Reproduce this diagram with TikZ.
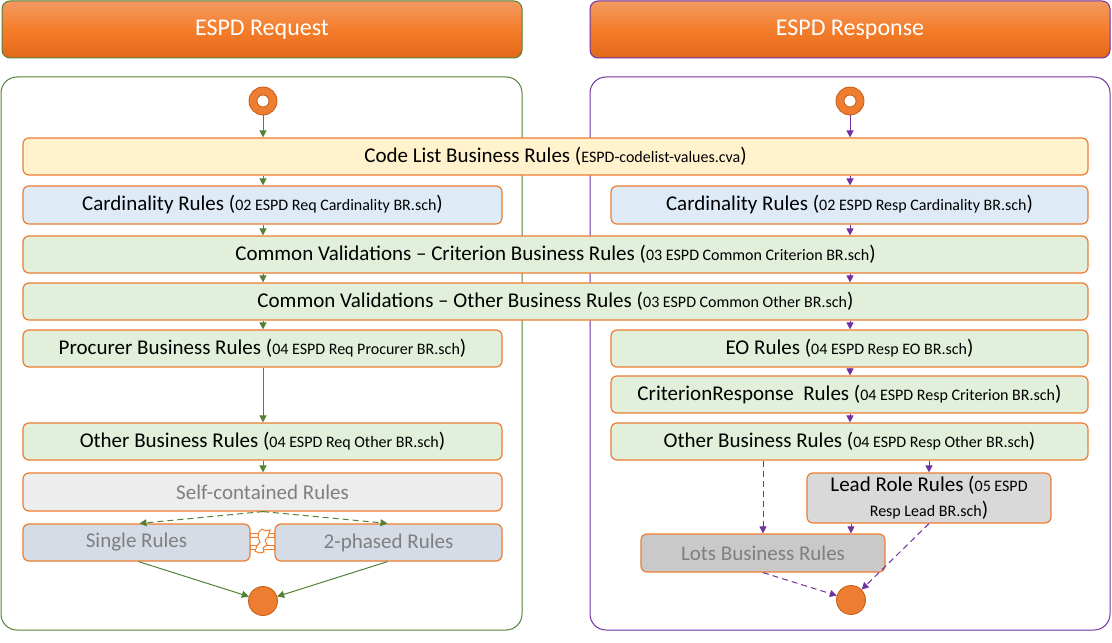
\documentclass[tikz,border=0pt]{standalone}
\usepackage{fontspec}
\setmainfont{Carlito}
\usetikzlibrary{arrows.meta,shapes.geometric}
\definecolor{orB}{HTML}{ED7D31}
\definecolor{gArr}{HTML}{548235}
\definecolor{pArr}{HTML}{7030A0}
\definecolor{fYel}{HTML}{FFF2CC}
\definecolor{fBlu}{HTML}{DEEBF7}
\definecolor{fGrn}{HTML}{E2EFDA}
\definecolor{fSelf}{HTML}{EDEDED}
\definecolor{fSgl}{HTML}{D6DCE5}
\definecolor{fLead}{HTML}{D9D9D9}
\definecolor{fLots}{HTML}{C9C9C9}
\definecolor{txtG}{HTML}{7F7F7F}
\definecolor{hTop}{HTML}{F39A62}
\definecolor{hMid}{HTML}{F47D2A}
\definecolor{hBot}{HTML}{E3681A}
\definecolor{cDark}{HTML}{C55A11}
\newcommand{\mainsz}{\fontsize{10.5}{12}\selectfont}
\newcommand{\smtxt}[1]{{\fontsize{8}{10}\selectfont #1}}
\tikzset{
  rulebox/.style={draw=orB, line width=0.6pt, rounded corners=3pt, font=\mainsz, inner sep=0pt, align=center},
  hdr/.style={draw=#1, line width=0.5pt, rounded corners=4pt, top color=hTop, bottom color=hBot, middle color=hMid, minimum width=260pt, minimum height=28.5pt, text=white, font=\fontsize{12}{14}\selectfont},
  cont/.style={draw=#1, line width=0.5pt, rounded corners=8pt},
  garr/.style={draw=gArr, line width=0.5pt, -{Triangle[length=3.5pt,width=3.5pt]}},
  parr/.style={draw=pArr, line width=0.5pt, -{Triangle[length=3.5pt,width=3.5pt]}},
  startc/.style={circle, fill=orB, draw=cDark, line width=0.4pt, minimum size=14pt, inner sep=0pt},
  startin/.style={circle, fill=white, draw=cDark, line width=0.4pt, minimum size=6pt, inner sep=0pt},
  endc/.style={circle, fill=orB, draw=cDark, line width=0.4pt, minimum size=14.5pt, inner sep=0pt},
}
\begin{document}
\begin{tikzpicture}[x=0.5pt,y=-0.5pt]
\useasboundingbox (0,0) rectangle (1112,642);
% headers
\node[hdr=gArr] (hreq) at (262,29.5) {\raisebox{-1.5pt}{ESPD Request}};
\node[hdr=pArr] (hresp) at (850,29.5) {\raisebox{-1.5pt}{ESPD Response}};
% containers
\draw[cont=gArr] (1,77) rectangle (522,630);
\draw[cont=pArr] (590,77) rectangle (1110,630);
% start / end
\node[startc] (lstart) at (263,101) {};
\node[startin] (lstartin) at (263,101) {};
\node[startc] (rstart) at (850,101) {};
\node[startin] (rstartin) at (850,101) {};
\node[endc] (lend) at (263,601) {};
\node[endc] (rend) at (851,600) {};
% boxes
\node[rulebox, fill=fYel, minimum width=532.5pt, minimum height=18.5pt] (code) at (555.5,156.5) {Code List Business\ Rules (\smtxt{ESPD-codelist-values.cva})};
\node[rulebox, fill=fBlu, minimum width=239.5pt, minimum height=19pt] (reqcard) at (262.5,205) {Cardinality Rules (\smtxt{02 ESPD Req Cardinality BR.sch})};
\node[rulebox, fill=fBlu, minimum width=238.5pt, minimum height=19pt] (respcard) at (849.5,205) {Cardinality Rules (\smtxt{02 ESPD Resp Cardinality BR.sch})};
\node[rulebox, fill=fGrn, minimum width=532.5pt, minimum height=18.5pt] (crit) at (555.5,254.5) {Common Validations -- Criterion\ Business\ Rules (\smtxt{03 ESPD Common\ Criterion\ BR.sch})};
\node[rulebox, fill=fGrn, minimum width=532.5pt, minimum height=18.5pt] (other) at (555.5,301.5) {Common Validations -- Other\ Business Rules (\smtxt{03 ESPD Common\ Other BR.sch})};
\node[rulebox, fill=fGrn, minimum width=239.5pt, minimum height=18.5pt] (proc) at (262.5,348.5) {Procurer\ Business Rules (\smtxt{04 ESPD Req Procurer\ BR.sch})};
\node[rulebox, fill=fGrn, minimum width=239.5pt, minimum height=18.5pt] (reqother) at (262.5,441.5) {Other Business\ Rules (\smtxt{04\ ESPD Req Other\ BR.sch})};
\node[rulebox, fill=fGrn, minimum width=238.5pt, minimum height=18.5pt] (eo) at (849.5,348.5) {EO Rules (\smtxt{04 ESPD Resp EO BR.sch})};
\node[rulebox, fill=fGrn, minimum width=238.5pt, minimum height=18.5pt] (critresp) at (849.5,394.5) {CriterionResponse\ \ Rules (\smtxt{04 ESPD Resp Criterion BR.sch})};
\node[rulebox, fill=fGrn, minimum width=238.5pt, minimum height=18.5pt] (respother) at (849.5,441.5) {Other Business\ Rules (\smtxt{04 ESPD Resp Other BR.sch})};
\node[rulebox, fill=fSelf, text=txtG, minimum width=239.5pt, minimum height=19pt] (self) at (262.5,492) {Self-contained Rules};
\node[rulebox, fill=fSgl, text=txtG, minimum width=113.5pt, minimum height=18.5pt] (single) at (136.5,542.5) {Single Rules};
\node[rulebox, fill=fSgl, text=txtG, minimum width=113.5pt, minimum height=18.5pt] (twophase) at (388.5,542.5) {2-phased\ Rules};
\node[rulebox, fill=fLead, minimum width=122pt, minimum height=25pt, font=\fontsize{10.5}{13}\selectfont] (lead) at (929,498) {Lead Role Rules (\smtxt{05 ESPD}\\[-0.5pt]\smtxt{Resp Lead BR.sch})};
\node[rulebox, fill=fLots, text=txtG, minimum width=122pt, minimum height=19pt] (lots) at (763,553) {Lots Business Rules};
% not-equal connector between single and two-phase
\draw[orB, fill=white, line width=0.5pt] (single.east |- 0,533.5) rectangle (twophase.west |- 0,537.5);
\draw[orB, fill=white, line width=0.5pt] (single.east |- 0,545) rectangle (twophase.west |- 0,549);
\draw[orB, fill=white, line width=0.5pt] (259,532) -- (262,529) -- (266,531) -- (270,530) -- (268,537) -- (265,540) -- (267,545) -- (263,548) -- (264,552) -- (259,553) -- (255,551) -- (257,546) -- (260,542) -- (258,537) -- cycle;
% left connectors
\draw[garr] (lstart) -- (lstart |- code.north);
\draw[garr] (lstart |- code.south) -- (lstart |- reqcard.north);
\draw[garr] (lstart |- reqcard.south) -- (lstart |- crit.north);
\draw[garr] (lstart |- crit.south) -- (lstart |- other.north);
\draw[garr] (lstart |- other.south) -- (lstart |- proc.north);
\draw[garr] (lstart |- proc.south) -- (lstart |- reqother.north);
\draw[garr] (lstart |- reqother.south) -- (lstart |- self.north);
\draw[garr, dash pattern=on 3pt off 2pt] (lstart |- self.south) -- ([xshift=1.5pt]single.north);
\draw[garr, dash pattern=on 3pt off 2pt] (lstart |- self.south) -- ([xshift=-0.5pt]twophase.north);
\draw[garr] ([xshift=1pt]single.south) -- (lend);
\draw[garr] ([xshift=-0.5pt]twophase.south) -- (lend);
% right connectors
\draw[parr] (rstart) -- (rstart |- code.north);
\draw[parr] (rstart |- code.south) -- (rstart |- respcard.north);
\draw[parr] (rstart |- respcard.south) -- (rstart |- crit.north);
\draw[parr] (rstart |- crit.south) -- (rstart |- other.north);
\draw[parr] (rstart |- other.south) -- (rstart |- eo.north);
\draw[parr] (rstart |- eo.south) -- (rstart |- critresp.north);
\draw[parr] (rstart |- critresp.south) -- (rstart |- respother.north);
\draw[parr, dash pattern=on 3pt off 2pt] (lots |- respother.south) -- (lots.north);
\draw[parr, dash pattern=on 3pt off 2pt] (lead |- respother.south) -- (lead.north);
\draw[parr, dash pattern=on 3pt off 2pt] (rend |- lead.south) -- (rend |- lots.north);
\draw[parr, dash pattern=on 3pt off 2pt] (lots.south) -- (rend);
\draw[parr, dash pattern=on 3pt off 2pt] (lead.south) -- (rend);
\end{tikzpicture}
\end{document}
